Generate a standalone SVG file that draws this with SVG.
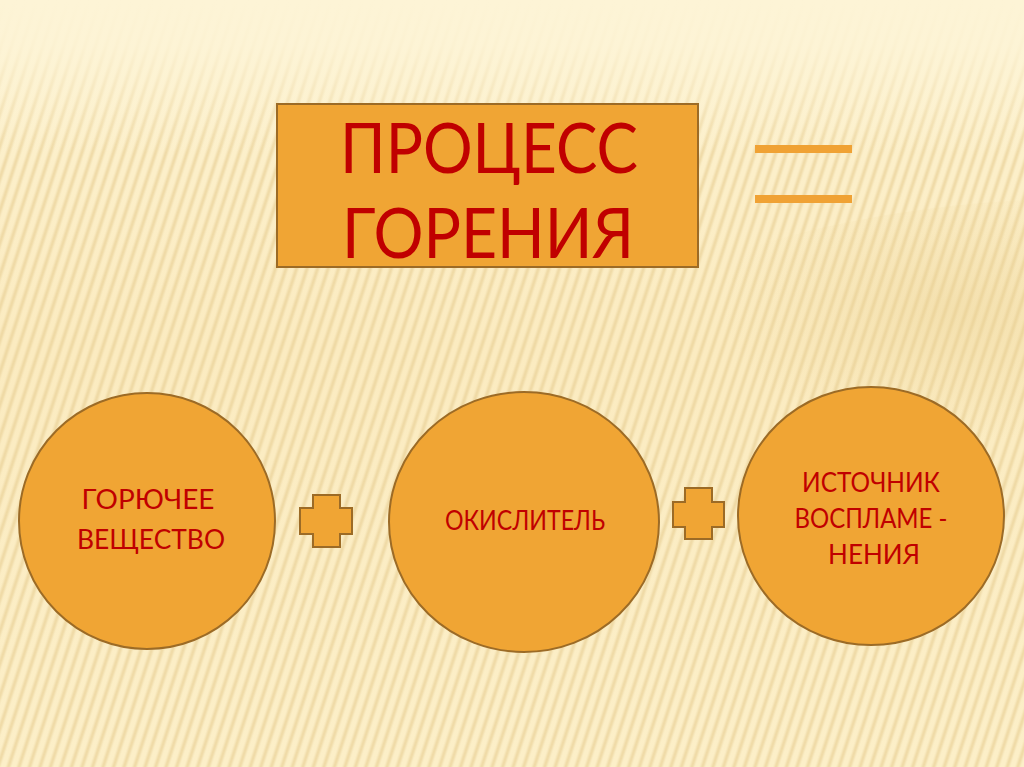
<svg xmlns="http://www.w3.org/2000/svg" width="1024" height="767" viewBox="0 0 1024 767">
<style>
.shape{fill:#f0a534;stroke:#9c6b26;stroke-width:2}
.t{font-family:Lato,"Open Sans","Liberation Sans",sans-serif;fill:#c00000;text-anchor:middle}
.big{font-size:70px}
.small{font-size:26px}
.bar{fill:#f0a234}
</style>
<defs>
<linearGradient id="bg" x1="0" y1="0" x2="0" y2="1">
<stop offset="0" stop-color="#fdf3d2"/>
<stop offset="0.45" stop-color="#fbebc0"/>
<stop offset="1" stop-color="#fcefc8"/>
</linearGradient>
<linearGradient id="stripe" x1="0" y1="0" x2="1" y2="0">
<stop offset="0" stop-color="#e8cf95" stop-opacity="0"/>
<stop offset="0.5" stop-color="#e8cf95" stop-opacity="0.75"/>
<stop offset="1" stop-color="#e8cf95" stop-opacity="0"/>
</linearGradient>
<pattern id="stripes" patternUnits="userSpaceOnUse" width="10" height="20" patternTransform="rotate(18)">
<rect x="2" y="0" width="6" height="20" fill="url(#stripe)"/>
</pattern>
<linearGradient id="fadeTop" x1="0" y1="0" x2="0" y2="1">
<stop offset="0" stop-color="#fdf4d6" stop-opacity="1"/>
<stop offset="0.06" stop-color="#fdf4d6" stop-opacity="0.9"/>
<stop offset="0.2" stop-color="#fdf4d6" stop-opacity="0"/>
<stop offset="1" stop-color="#fdf4d6" stop-opacity="0"/>
</linearGradient>
<radialGradient id="swoosh" cx="0.85" cy="0.4" r="0.5">
<stop offset="0" stop-color="#e9cf90" stop-opacity="0.4"/>
<stop offset="1" stop-color="#e9cf90" stop-opacity="0"/>
</radialGradient>
</defs>
<g id="background">
<rect width="1024" height="767" fill="url(#bg)"/>
<rect width="1024" height="767" fill="url(#stripes)"/>
<path d="M560 330 C 700 250, 850 210, 1024 200 L1024 470 C 900 430, 750 380, 560 330 Z" fill="url(#swoosh)"/>
<rect width="1024" height="767" fill="url(#fadeTop)"/>
</g>
<g id="title">
<rect x="277" y="104" width="421" height="163" class="shape"/>
<text x="489" y="173" class="t big" textLength="298" lengthAdjust="spacingAndGlyphs">ПРОЦЕСС</text>
<text x="488" y="258" class="t big" textLength="292" lengthAdjust="spacingAndGlyphs">ГОРЕНИЯ</text>
</g>
<g id="equals">
<rect x="755" y="145" width="97" height="8" class="bar"/>
<rect x="755" y="195" width="97" height="8" class="bar"/>
</g>
<g id="node-fuel">
<ellipse cx="147" cy="521" rx="128" ry="128" class="shape"/>
<text x="148" y="509" class="t small" textLength="133" lengthAdjust="spacingAndGlyphs">ГОРЮЧЕЕ</text>
<text x="151" y="549" class="t small" textLength="148" lengthAdjust="spacingAndGlyphs">ВЕЩЕСТВО</text>
</g>
<g id="plus-1">
<path d="M313 495 H340 V508 H352 V534 H340 V547 H313 V534 H300 V508 H313 Z" class="shape"/>
</g>
<g id="node-oxidizer">
<ellipse cx="524" cy="522" rx="135" ry="130" class="shape"/>
<text x="525" y="530" class="t small" textLength="160" lengthAdjust="spacingAndGlyphs">ОКИСЛИТЕЛЬ</text>
</g>
<g id="plus-2">
<path d="M685 488 H712 V502 H724 V527 H712 V539 H685 V527 H673 V502 H685 Z" class="shape"/>
</g>
<g id="node-ignition">
<ellipse cx="871" cy="516" rx="133" ry="129" class="shape"/>
<text x="871" y="492" class="t small" textLength="138" lengthAdjust="spacingAndGlyphs">ИСТОЧНИК</text>
<text x="871" y="528" class="t small" textLength="153" lengthAdjust="spacingAndGlyphs">ВОСПЛАМЕ -</text>
<text x="874" y="564" class="t small">НЕНИЯ</text>
</g>
</svg>
